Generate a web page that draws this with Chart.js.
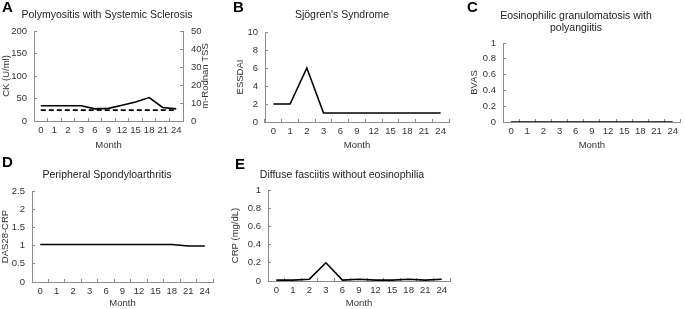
<!DOCTYPE html>
<html>
<head>
<meta charset="utf-8">
<script src="https://cdn.jsdelivr.net/npm/chart.js@4.4.0/dist/chart.umd.min.js"></script>
<style>
  html, body { margin: 0; padding: 0; background: #fff; }
  #wrap { position: relative; width: 685px; height: 309px; overflow: hidden; }
  #wrap canvas { position: absolute; }
</style>
</head>
<body>
<div id="wrap"></div>
<script>
// categorias do eixo x (meses)
const months = ['0', '1', '2', '3', '6', '9', '12', '15', '18', '21', '24'];

// valores
const ckValues = [34, 34, 34, 34, 27, 28, 35, 42, 52, 30, 27];
const rodnanValues = [6, 6, 6, 6, 6, 6, 6, 6, 6, 6, 6];
const essdaiValues = [2, 2, 6, 1, 1, 1, 1, 1, 1, 1, 1];
const bvasValues = [0, 0, 0, 0, 0, 0, 0, 0, 0, 0, 0];
const das28Values = [1.03, 1.03, 1.03, 1.03, 1.03, 1.03, 1.03, 1.03, 1.03, 0.99, 0.99];
const crpValues = [0.01, 0.01, 0.02, 0.2, 0.01, 0.02, 0.01, 0.01, 0.02, 0.01, 0.02];

const FONT = '"Liberation Sans", Arial, sans-serif';
const axisColor = '#8c8c8c';
const textColor = '#333';

// plugin para letra do painel, título e título do eixo direito
const panelText = {
    id: 'panelText',
    afterDraw(chart, args, o) {
        const ctx = chart.ctx;
        ctx.save();
        ctx.textBaseline = 'middle';
        ctx.fillStyle = '#000';
        ctx.textAlign = 'left';
        ctx.font = 'bold 15px ' + FONT;
        ctx.fillText(o.letter, o.letterX, o.letterY);
        ctx.fillStyle = '#222';
        ctx.textAlign = 'center';
        ctx.font = '10.5px ' + FONT;
        o.title.forEach((line, i) => ctx.fillText(line, o.titleX, o.titleY + i * 12));
        if (o.rightTitle) {
            const a = chart.chartArea;
            ctx.translate(o.rightTitleX, (a.top + a.bottom) / 2);
            ctx.rotate(-Math.PI / 2);
            ctx.font = '9.5px ' + FONT;
            ctx.fillStyle = textColor;
            ctx.fillText(o.rightTitle, 0, 0);
        }
        ctx.restore();
    }
};

function fmt(v) {
    return String(parseFloat(Number(v).toFixed(2)));
}

function yScale(p, opts) {
    return {
        position: opts.position || 'left',
        min: opts.min,
        max: opts.max,
        afterFit: s => { s.width = opts.width; },
        border: { display: true, color: axisColor, width: 1 },
        grid: { drawOnChartArea: false, drawTicks: true, tickLength: -3, color: axisColor },
        ticks: {
            stepSize: opts.step,
            padding: opts.padding,
            color: textColor,
            font: { family: FONT, size: 9.5 },
            callback: fmt
        },
        title: opts.title ? {
            display: true,
            text: opts.title,
            color: textColor,
            font: { family: FONT, size: 9.5 },
            padding: { top: opts.titlePad, bottom: 0 }
        } : { display: false }
    };
}

function makePanel(p) {
    const canvas = document.createElement('canvas');
    canvas.width = p.w;
    canvas.height = p.h;
    canvas.style.left = p.x + 'px';
    canvas.style.top = p.y + 'px';
    canvas.style.width = p.w + 'px';
    canvas.style.height = p.h + 'px';
    document.getElementById('wrap').appendChild(canvas);

    const scales = {
        x: {
            type: 'category',
            offset: true,
            afterFit: s => { s.height = p.y + p.h - p.area.b; },
            border: { display: true, color: axisColor, width: 1 },
            grid: { offset: true, drawOnChartArea: false, drawTicks: true, tickLength: -3, color: axisColor },
            ticks: { padding: 7, color: textColor, font: { family: FONT, size: 9.5 }, maxRotation: 0, autoSkip: false },
            title: {
                display: true,
                text: 'Month',
                color: textColor,
                font: { family: FONT, size: 9.5 },
                padding: { top: 0, bottom: p.monthPad }
            }
        },
        y: yScale(p, Object.assign({ width: p.area.l - p.x, padding: 10 }, p.y1))
    };
    if (p.y2) {
        scales.y2 = yScale(p, Object.assign({ position: 'right', width: p.x + p.w - p.area.r, padding: 11 }, p.y2));
    }

    const datasets = p.series.map(s => ({
        data: s.data,
        yAxisID: s.axis || 'y',
        borderColor: '#000',
        borderWidth: s.width || 1.6,
        borderDash: s.dash || [],
        pointRadius: 0,
        tension: 0,
        fill: false
    }));

    new Chart(canvas.getContext('2d'), {
        type: 'line',
        data: { labels: months, datasets: datasets },
        options: {
            responsive: false,
            animation: false,
            devicePixelRatio: 1,
            layout: {
                padding: {
                    top: p.area.t - p.y,
                    left: 0,
                    bottom: 0,
                    right: p.y2 ? 0 : p.x + p.w - p.area.r
                }
            },
            scales: scales,
            plugins: {
                legend: { display: false },
                tooltip: { enabled: false },
                panelText: {
                    letter: p.letter,
                    letterX: p.letterX - p.x,
                    letterY: p.letterY - p.y,
                    title: p.title,
                    titleX: p.titleX - p.x,
                    titleY: p.titleY - p.y,
                    rightTitle: p.rightTitle,
                    rightTitleX: p.rightTitleX ? p.rightTitleX - p.x : 0
                }
            }
        },
        plugins: [panelText]
    });
}

// A
makePanel({
    x: 0, y: 0, w: 228, h: 155, area: { l: 34, t: 31, r: 183, b: 121 },
    letter: 'A', letterX: 2, letterY: 8,
    title: ['Polymyositis with Systemic Sclerosis'], titleX: 107, titleY: 15,
    monthPad: 4,
    y1: { min: 0, max: 200, step: 50, title: 'CK (U/ml)', titlePad: 1 },
    y2: { min: 0, max: 50, step: 10 },
    rightTitle: 'm-Rodnan TSS', rightTitleX: 205,
    series: [
        { data: ckValues, axis: 'y' },
        { data: rodnanValues, axis: 'y2', dash: [5, 3], width: 1.8 }
    ]
});

// B
makePanel({
    x: 228, y: 0, w: 227, h: 155, area: { l: 265, t: 32, r: 449, b: 122 },
    letter: 'B', letterX: 233, letterY: 8,
    title: ['Sjögren\'s Syndrome'], titleX: 342, titleY: 15,
    monthPad: 4,
    y1: { min: 0, max: 10, step: 2, title: 'ESSDAI', titlePad: 7 },
    series: [{ data: essdaiValues }]
});

// C
makePanel({
    x: 455, y: 0, w: 230, h: 155, area: { l: 503, t: 43, r: 684, b: 122 },
    letter: 'C', letterX: 467, letterY: 8,
    title: ['Eosinophilic granulomatosis with', 'polyangiitis'], titleX: 576, titleY: 16,
    monthPad: 4,
    y1: { min: 0, max: 1, step: 0.2, title: 'BVAS', titlePad: 14 },
    series: [{ data: bvasValues }]
});

// D
makePanel({
    x: 0, y: 155, w: 228, h: 154, area: { l: 32, t: 191, r: 213, b: 282 },
    letter: 'D', letterX: 2, letterY: 163,
    title: ['Peripheral Spondyloarthritis'], titleX: 107, titleY: 175,
    monthPad: 0,
    y1: { min: 0, max: 2.5, step: 0.5, title: 'DAS28-CRP', titlePad: 0 },
    series: [{ data: das28Values }]
});

// E
makePanel({
    x: 228, y: 155, w: 227, h: 154, area: { l: 268, t: 190, r: 450, b: 281 },
    letter: 'E', letterX: 235, letterY: 165,
    title: ['Diffuse fasciitis without eosinophilia'], titleX: 342, titleY: 175,
    monthPad: 0,
    y1: { min: 0, max: 1, step: 0.2, title: 'CRP (mg/dL)', titlePad: 2 },
    series: [{ data: crpValues }]
});
</script>
</body>
</html>
